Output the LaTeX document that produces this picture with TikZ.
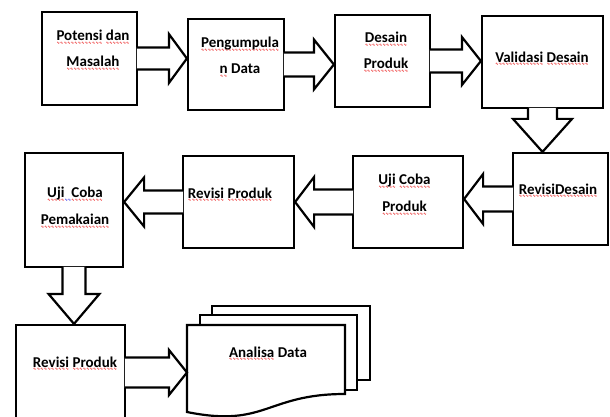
\documentclass[tikz,border=0pt]{standalone}
\usepackage{fontspec}
\setmainfont{Carlito}
\newfontfamily\wavefont{DejaVu Sans}
\usetikzlibrary{calc}

\definecolor{squigred}{RGB}{235,20,20}
\definecolor{squigblue}{RGB}{30,30,235}

% wavy proofing underline under a word, drawn with a repeated sine-wave glyph
\newcommand\wavyunder[2]{%
  \setbox0\hbox{#2}%
  \rlap{\raisebox{-3.6pt}[0pt][0pt]{\color{#1}\wavefont\fontsize{4}{4}\selectfont
    \xleaders\hbox{∿}\hskip\wd0}}%
  \box0\relax}
\newcommand\sq[1]{\wavyunder{squigred}{#1}}
\newcommand\sqb[1]{\wavyunder{squigblue}{#1}}

% block arrow from #1 to tip #2: shaft half width #3, head half width #4, head length #5
\newcommand\blockarrow[5]{%
  \path (#1) coordinate (ba-a) (#2) coordinate (ba-b);
  \path ($(ba-a)!-1.2pt!(ba-b)$) coordinate (ba-s);
  \path ($(ba-b)!#5!(ba-a)$) coordinate (ba-h);
  \filldraw[blockarr] ($(ba-s)!#3!90:(ba-b)$) -- ($(ba-h)!#3!-90:(ba-a)$)
    -- ($(ba-h)!#4!-90:(ba-a)$) -- (ba-b) -- ($(ba-h)!#4!90:(ba-a)$)
    -- ($(ba-h)!#3!90:(ba-a)$) -- ($(ba-s)!#3!-90:(ba-b)$);
}

\tikzset{
  box/.style={draw, line width=2.2pt, rectangle, inner sep=0pt, fill=white},
  boxtext/.style={font=\fontsize{15}{26.5}\selectfont\bfseries, align=center, inner sep=0pt},
  blockarr/.style={line width=2.2pt, draw=black, fill=white},
  docpage/.style={line width=2.2pt, draw=black, fill=white},
}

\begin{document}
\begin{tikzpicture}[x=1pt,y=-1pt]
\useasboundingbox (0,0) rectangle (610,417);
\clip (0,0) rectangle (610,417);

% process boxes
\node[box, minimum width=95pt,  minimum height=93pt]  (b1) at (89.5,58.5) {};
\node[box, minimum width=96pt,  minimum height=91pt]  (b2) at (236,64.5) {};
\node[box, minimum width=95pt,  minimum height=92pt]  (b3) at (382.5,61) {};
\node[box, minimum width=121pt, minimum height=92pt]  (b4) at (542.5,62) {};
\node[box, minimum width=95pt,  minimum height=92pt]  (b5) at (560.5,199) {};
\node[box, minimum width=110pt, minimum height=92pt]  (b6) at (408,202) {};
\node[box, minimum width=111pt, minimum height=92pt]  (b7) at (238.5,202) {};
\node[box, minimum width=98pt,  minimum height=114pt] (b8) at (74,210) {};
\node[box, minimum width=109pt, minimum height=95pt]  (b9) at (70.5,372.5) {};

% stacked documents
\draw[docpage] (212,306) rectangle (370,380);
\draw[docpage] (200,315) rectangle (357,390);
\draw[docpage] (187,325) coordinate (d1) -- (345,325) -- (345,394)
  .. controls (266,394) and (266,428) .. (187,412) -- cycle;

% block arrows
\blockarrow{b1.east}{b1.east -| b2.west}{11pt}{24.5pt}{18pt}
\blockarrow{b2.east}{b2.east -| b3.west}{12pt}{25pt}{20pt}
\blockarrow{b3.east}{b3.east -| b4.west}{11.5pt}{24pt}{19pt}
\blockarrow{b4.south}{b4.south |- b5.north}{14.5pt}{29.5pt}{33pt}
\blockarrow{b5.west}{b5.west -| b6.east}{12.5pt}{25pt}{19pt}
\blockarrow{b6.west}{b6.west -| b7.east}{12.5pt}{25pt}{19pt}
\blockarrow{b7.west}{b7.west -| b8.east}{11.5pt}{24.5pt}{20pt}
\blockarrow{b8.south}{b8.south |- b9.north}{11.5pt}{25.5pt}{30pt}
\blockarrow{b9.east}{b9.east -| d1}{15pt}{22.5pt}{18pt}

% labels
\node[boxtext] (t1) at (93,48.5)   {\sq{Potensi} \sq{dan}\\\sq{Masalah}};
\node[boxtext] (t2) at (240,55.5)  {\sq{Pengumpula}\\\sq{n} Data};
\node[boxtext] (t3) at (386,50.5)  {\sq{Desain}\\\sq{Produk}};
\node[boxtext] (t4) at (542,57)    {\sq{Validasi} \sq{Desain}};
\node[boxtext] (t5) at (558,189)   {\sq{RevisiDesain}};
\node[boxtext] (t6) at (404.5,193) {\sq{Uji} \sq{Coba}\\\sq{Produk}};
\node[boxtext] (t7) at (230,193)   {\sq{Revisi} \sq{Produk}};
\node[boxtext] (t8) at (75,206)    {\sq{Uji}\sqb{\ \ }\sq{Coba}\\\sq{Pemakaian}};
\node[boxtext] (t9) at (75,362)    {\sq{Revisi} \sq{Produk}};
\node[boxtext] (td) at (268,352)   {\sq{Analisa} Data};
\end{tikzpicture}
\end{document}
